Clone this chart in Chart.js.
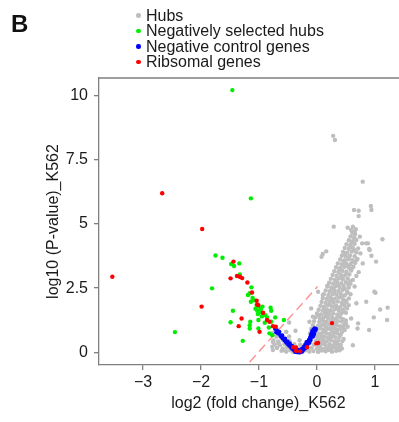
<!DOCTYPE html>
<html lang="en">
  <head>
    <meta charset="UTF-8" />
    <meta name="viewport" content="width=device-width, initial-scale=1.0" />
    <script src="https://cdn.jsdelivr.net/npm/chart.js"></script>
    <title>Volcano K562</title>
    <style>
      body {
        margin: 0;
        width: 399px;
        height: 422px;
        overflow: hidden;
        position: relative;
        background: #fff;
        font-family: "Liberation Sans", Arial, sans-serif;
      }
      #plot {
        position: absolute;
        left: 0;
        top: 0;
      }
      #tag {
        position: absolute;
        left: 11px;
        top: 12px;
        font-size: 24px;
        line-height: 24px;
        font-weight: bold;
        color: #111;
      }
      .leg-row {
        position: absolute;
        left: 146px;
        font-size: 16px;
        line-height: 15.5px;
        color: #1a1a1a;
        white-space: nowrap;
      }
      .leg-dot {
        position: absolute;
        width: 4.5px;
        height: 4.5px;
        border-radius: 50%;
      }
    </style>
  </head>
  <body>
    <canvas id="plot" width="420" height="422"></canvas>
    <div id="tag">B</div>
    <div id="legend"></div>
    <script>
      // legend / axes
      const legendNames = ['Hubs', 'Negatively selected hubs', 'Negative control genes', 'Ribsomal genes'];
      const xTicks = [-3, -2, -1, 0, 1];
      const yTicks = [0, 2.5, 5, 7.5, 10];

      // [log2 fold change, log10 p-value]
      const hubs = [
        [-0.61,0.06],[-0.53,0.03],[-0.46,0.08],[-0.41,0.02],[-0.34,0.05],[-0.27,0.01],[-0.21,0.07],[-0.13,0.03],
        [-0.06,0.05],[0.02,0.02],[0.08,0.07],[0.15,0.04],[0.21,0.09],[0.26,0.03],[0.33,0.06],[0.39,0.08],
        [-0.69,0.17],[-0.59,0.14],[-0.51,0.19],[-0.44,0.13],[-0.36,0.18],[-0.24,0.16],[-0.16,0.12],[-0.09,0.18],
        [0.0,0.15],[0.06,0.19],[0.12,0.13],[0.18,0.17],[0.25,0.14],[0.31,0.19],[0.36,0.16],[0.43,0.15],
        [-0.73,0.31],[-0.64,0.28],[-0.56,0.33],[-0.48,0.29],[-0.39,0.32],[-0.29,0.3],[-0.22,0.27],[-0.05,0.31],
        [0.03,0.28],[0.09,0.33],[0.15,0.29],[0.22,0.32],[0.28,0.27],[0.35,0.31],[0.41,0.3],
        [-0.75,0.46],[-0.67,0.43],[-0.59,0.48],[-0.47,0.44],[-0.3,0.47],[-0.02,0.45],[0.05,0.42],[0.11,0.47],
        [0.17,0.44],[0.24,0.48],[0.3,0.43],[0.37,0.46],[0.44,0.44],
        [-0.7,0.61],[-0.62,0.58],[-0.48,0.62],[-0.08,0.59],[0.0,0.62],[0.07,0.57],[0.13,0.61],[0.19,0.59],
        [0.26,0.63],[0.32,0.58],[0.39,0.61],
        [-0.76,0.76],[-0.53,0.8],[-0.37,0.84],[-0.12,0.74],[-0.03,0.77],[0.04,0.73],[0.1,0.78],[0.16,0.75],
        [0.22,0.72],[0.29,0.77],[0.35,0.74],[0.43,0.79],
        [-0.1,0.91],[0.0,0.88],[0.06,0.93],[0.12,0.89],[0.19,0.92],[0.25,0.87],[0.31,0.93],[0.38,0.9],[0.46,0.92],
        [-0.07,1.06],[0.02,1.03],[0.09,1.07],[0.15,1.02],[0.21,1.08],[0.28,1.04],[0.34,1.06],[0.4,1.02],[0.47,1.07],
        [-0.05,1.21],[0.04,1.18],[0.11,1.22],[0.17,1.19],[0.24,1.23],[0.3,1.17],[0.36,1.21],[0.43,1.2],[0.5,1.24],
        [-0.03,1.36],[0.05,1.33],[0.12,1.37],[0.19,1.34],[0.26,1.38],[0.33,1.32],[0.4,1.36],
        [0.0,1.51],[0.07,1.48],[0.14,1.53],[0.21,1.49],[0.28,1.52],[0.35,1.47],[0.42,1.51],[0.5,1.54],
        [0.03,1.66],[0.1,1.63],[0.17,1.67],[0.24,1.64],[0.31,1.68],[0.38,1.62],[0.45,1.66],
        [0.06,1.81],[0.12,1.78],[0.19,1.83],[0.26,1.79],[0.33,1.82],[0.4,1.77],[0.48,1.81],[0.55,1.84],
        [0.08,1.96],[0.15,1.93],[0.22,1.97],[0.29,1.94],[0.36,1.98],[0.43,1.92],[0.51,1.96],
        [0.1,2.11],[0.17,2.08],[0.24,2.12],[0.31,2.09],[0.38,2.13],[0.45,2.07],[0.55,2.1],
        [0.12,2.26],[0.2,2.23],[0.27,2.27],[0.34,2.24],[0.41,2.28],[0.48,2.22],[0.58,2.26],
        [0.15,2.41],[0.22,2.38],[0.3,2.42],[0.37,2.39],[0.44,2.43],[0.52,2.37],
        [0.18,2.56],[0.25,2.53],[0.32,2.57],[0.39,2.54],[0.46,2.58],[0.55,2.52],[0.65,2.56],
        [0.21,2.71],[0.28,2.68],[0.35,2.72],[0.42,2.69],[0.5,2.73],[0.58,2.67],
        [0.24,2.86],[0.31,2.83],[0.38,2.87],[0.45,2.84],[0.53,2.88],[0.62,2.82],
        [0.27,3.01],[0.34,2.98],[0.41,3.02],[0.48,2.99],[0.56,3.03],[0.68,2.97],
        [0.3,3.16],[0.37,3.13],[0.44,3.17],[0.51,3.14],[0.59,3.18],[0.72,3.12],
        [0.33,3.31],[0.4,3.28],[0.47,3.32],[0.55,3.29],[0.63,3.33],
        [0.36,3.46],[0.43,3.43],[0.5,3.47],[0.58,3.44],[0.66,3.48],
        [0.4,3.61],[0.47,3.58],[0.54,3.62],[0.61,3.59],[0.7,3.63],
        [0.43,3.76],[0.5,3.73],[0.57,3.77],[0.65,3.74],
        [0.45,3.91],[0.52,3.88],[0.6,3.92],[0.68,3.89],
        [0.48,4.06],[0.55,4.03],[0.62,4.07],[0.71,4.04],
        [0.51,4.21],[0.58,4.18],[0.65,4.22],
        [0.55,4.36],[0.62,4.33],[0.68,4.37],
        [0.58,4.51],[0.64,4.48],[0.59,4.76],
        // second pass, filling the gaps of the dense band
        [-0.57,0.1],[-0.38,0.11],[-0.19,0.1],[0.05,0.1],[0.23,0.24],[0.39,0.22],[-0.66,0.36],[-0.52,0.24],
        [0.12,0.38],[0.33,0.38],[0.46,0.52],[0.02,0.53],[0.22,0.53],[0.41,0.69],[0.08,0.67],[0.28,0.68],
        [0.14,0.84],[0.34,0.83],[0.05,0.98],[0.24,0.97],[0.43,0.98],[0.13,1.13],[0.32,1.12],[0.5,1.12],
        [0.08,1.28],[0.28,1.29],[0.45,1.29],[0.16,1.43],[0.37,1.42],[0.03,1.44],[0.2,1.58],[0.46,1.58],
        [0.13,1.72],[0.35,1.73],[0.52,1.71],[0.22,1.88],[0.45,1.87],[0.27,2.02],[0.49,2.01],[0.2,2.17],
        [0.42,2.18],[0.3,2.33],[0.53,2.32],[0.26,2.48],[0.48,2.48],[0.36,2.63],[0.54,2.63],[0.33,2.78],
        [0.57,2.77],[0.43,2.93],[0.51,3.08],[0.39,3.22],[0.6,3.25],[0.53,3.38],[0.46,3.52],[0.62,3.53],
        [0.55,3.68],[0.48,3.83],[0.64,3.98],[0.57,4.12],[0.6,4.27],[0.66,4.6],[0.61,4.65],
        [0.28,8.42],[0.31,8.26],[0.79,6.64],[0.64,5.54],[0.72,5.51],[0.93,5.69],[0.94,5.54],[0.72,5.3],
        [0.29,4.89],[0.53,4.85],[0.62,4.89],[0.67,4.79],[0.65,4.69],[1.13,4.4],[0.85,4.24],[0.91,3.98],
        [0.74,4.5],[0.78,4.24],[0.88,4.24],[0.9,4.02],[0.94,3.76],[1.02,3.53],[0.99,2.36],[1.09,1.67],
        [1.22,1.74],[0.98,1.36],[1.21,1.26],[0.9,0.87],[0.62,0.28],[0.7,0.93],[0.59,1.32],[0.85,1.97],
        [0.79,3.46],[0.75,3.85],[0.68,3.59],[1.01,2.32],[0.68,1.91],[0.71,1.13],[0.53,1.0],[0.48,0.87],
        [0.31,0.37],[0.08,3.72],[0.1,3.83],[0.16,3.93],[0.02,2.36],[0.1,2.23],[0.18,2.59],[-0.1,1.71],
        [-0.07,1.39],[-0.13,1.19],[-0.48,1.16],[-0.53,0.8],[-0.76,0.41],[-0.77,0.22],[-0.76,0.09]
      ];
      const negHubs = [
        [-1.46,10.2],[-1.14,5.99],[-1.75,3.77],[-1.63,3.68],[-1.48,3.44],[-1.43,3.36],[-1.34,3.46],[-1.33,3.03],
        [-1.81,2.49],[-2.45,0.79],[-1.45,1.62],[-1.49,1.17],[-1.28,0.45],[-1.13,2.53],[-1.16,2.3],[-1.19,2.23],
        [-1.11,2.12],[-1.14,1.97],[-1.09,2.03],[-1.04,1.84],[-1.01,1.78],[-0.94,1.78],[-1.03,1.62],[-0.98,1.56],
        [-1.02,1.49],[-0.93,1.52],[-0.8,1.74],[-0.79,1.62],[-0.86,1.36],[-0.72,1.36],[-1.15,1.19],[-1.16,1.06],
        [-1.16,0.93],[-1.01,1.26],[-1.01,0.93],[-0.9,1.15],[-0.79,1.19],[-0.83,0.97],[-0.82,0.74],[-0.77,0.67],
        [-0.57,1.26],[-1.06,1.7],[-0.97,1.68],[-0.89,1.45],[-0.95,1.4]
      ];
      const controls = [
        [-0.72,0.92],[-0.69,0.85],[-0.67,0.74],[-0.65,0.8],[-0.63,0.66],[-0.61,0.61],[-0.59,0.55],[-0.56,0.48],
        [-0.54,0.42],[-0.52,0.38],[-0.5,0.33],[-0.48,0.28],[-0.46,0.24],[-0.44,0.18],[-0.42,0.14],[-0.4,0.1],
        [-0.38,0.06],[-0.37,0.02],[-0.34,0.01],[-0.32,0.03],[-0.3,0.0],[-0.28,0.06],[-0.26,0.03],[-0.24,0.09],
        [-0.22,0.14],[-0.2,0.18],[-0.19,0.24],[-0.17,0.28],[-0.16,0.35],[-0.15,0.41],[-0.14,0.47],[-0.12,0.55],
        [-0.11,0.61],[-0.1,0.68],[-0.09,0.74],[-0.08,0.82],[-0.06,0.88],[-0.04,0.93],[-0.02,0.91],[-0.03,0.85],
        [-0.6,0.66],[-0.55,0.53],[-0.51,0.43],[-0.47,0.35],[-0.43,0.25],[-0.39,0.15],[-0.33,0.1],[-0.27,0.12],
        [-0.23,0.2],[-0.2,0.3],[-0.18,0.4],[-0.13,0.38],[-0.11,0.48],[-0.07,0.62],[-0.05,0.72],[-0.7,0.78],
        [-0.35,0.05],[-0.31,0.08]
      ];
      const ribosomal = [
        [-2.67,6.19],[-1.98,4.8],[-3.53,2.94],[-1.99,1.78],[-1.44,3.53],[-1.38,2.97],[-1.33,2.94],[-1.29,2.89],
        [-1.49,2.88],[-1.2,2.72],[-1.12,2.33],[-1.04,2.01],[-1.01,1.84],[-1.03,1.86],[-0.93,1.54],[-0.86,1.26],
        [-0.82,1.19],[-0.76,1.02],[-0.71,1.0],[-1.3,1.32],[-1.35,1.02],[-0.99,0.8],[-0.41,0.2],[-0.36,0.19],
        [-0.36,0.06],[-0.29,0.04],[-0.17,0.2],[-0.01,0.35],[0.02,0.37],[0.26,1.14]
      ];
      const cutLine = [[-1.16, -0.37], [0.01, 2.56]];

      const colors = ['#bebebe', '#00ee00', '#0000ff', '#ff0000'];
      const axisGray = '#808080';
      const font = "'Liberation Sans', Arial, sans-serif";

      // legend in html
      const legend = document.getElementById('legend');
      legendNames.forEach((name, i) => {
        const top = 7.9 + i * 15.5;
        const row = document.createElement('div');
        row.className = 'leg-row';
        row.style.top = top + 'px';
        row.textContent = name;
        legend.appendChild(row);
        const dot = document.createElement('div');
        dot.className = 'leg-dot';
        dot.style.left = (138.3 - 2.25) + 'px';
        dot.style.top = (top + 7.6 - 2.25) + 'px';
        dot.style.background = colors[i];
        legend.appendChild(dot);
      });

      const toXY = arr => arr.map(p => ({ x: p[0], y: p[1] }));
      const pts = (label, data, color, order) => ({
        label, data: toXY(data), order,
        backgroundColor: color, borderWidth: 0,
        pointRadius: 2.2, pointHoverRadius: 2.2
      });

      // top border of the box
      const boxTop = {
        id: 'boxTop',
        afterDraw(chart) {
          const { ctx, chartArea: a } = chart;
          ctx.save();
          ctx.strokeStyle = axisGray;
          ctx.lineWidth = 1.3;
          ctx.beginPath();
          ctx.moveTo(a.left, a.top);
          ctx.lineTo(a.right, a.top);
          ctx.lineTo(a.right, a.bottom);
          ctx.stroke();
          ctx.restore();
        }
      };

      new Chart(document.getElementById('plot'), {
        type: 'scatter',
        data: {
          datasets: [
            pts(legendNames[3], ribosomal, colors[3], 1),
            pts(legendNames[2], controls, colors[2], 2),
            pts(legendNames[1], negHubs, colors[1], 3),
            pts(legendNames[0], hubs, colors[0], 4),
            {
              type: 'line', label: 'cut', data: toXY(cutLine), order: 5,
              borderColor: 'rgba(255, 70, 70, 0.6)', borderWidth: 1.4,
              borderDash: [9, 5], pointRadius: 0, fill: false
            }
          ]
        },
        options: {
          responsive: false,
          animation: false,
          layout: { padding: { top: 78, right: 2, left: 0, bottom: 0 } },
          plugins: { legend: { display: false }, tooltip: { enabled: false } },
          scales: {
            x: {
              type: 'linear', min: -3.76, max: 1.74,
              afterFit: s => { s.height = 57; },
              afterBuildTicks: s => { s.ticks = xTicks.map(v => ({ value: v })); },
              border: { display: true, color: axisGray, width: 1.3 },
              grid: { drawOnChartArea: false, drawTicks: true, tickLength: 5, color: axisGray, lineWidth: 1.3 },
              ticks: {
                padding: 3, color: '#1a1a1a', font: { family: font, size: 16 },
                callback: v => String(v).replace('-', '\u2212')
              },
              title: {
                display: true, text: 'log2 (fold change)_K562', color: '#1a1a1a',
                font: { family: font, size: 16 }, padding: { top: 0, bottom: 8.4 }
              }
            },
            y: {
              type: 'linear', min: -0.49, max: 10.67,
              afterFit: s => { s.width = 99; },
              afterBuildTicks: s => { s.ticks = yTicks.map(v => ({ value: v })); },
              border: { display: true, color: axisGray, width: 1.3 },
              grid: { drawOnChartArea: false, drawTicks: true, tickLength: 5, color: axisGray, lineWidth: 1.3 },
              ticks: {
                padding: 6, color: '#1a1a1a', font: { family: font, size: 16 },
                callback: v => String(v)
              },
              title: {
                display: true, text: 'log10 (P-value)_K562', color: '#1a1a1a',
                font: { family: font, size: 16 }, padding: { top: 44.4, bottom: 0 }
              }
            }
          }
        },
        plugins: [boxTop]
      });
    </script>
  </body>
</html>
